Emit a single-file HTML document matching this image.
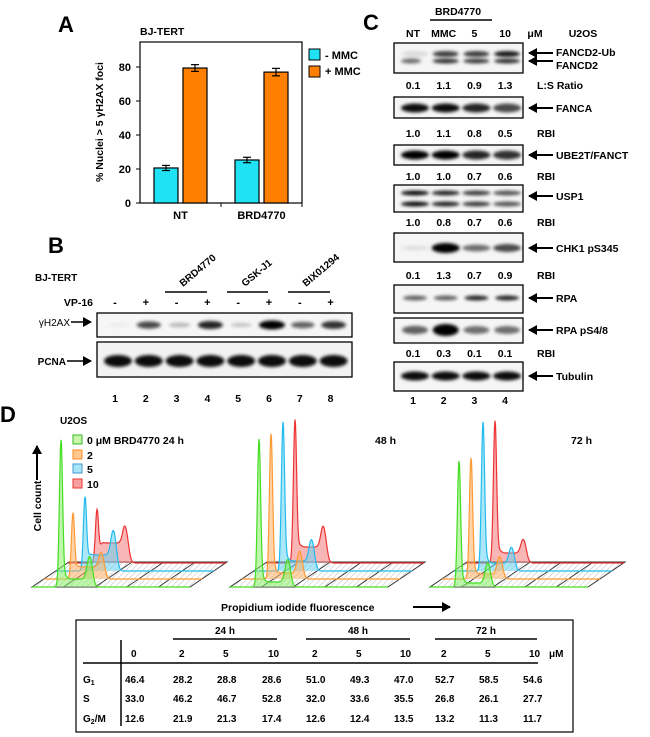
<!DOCTYPE html>
<html><head><meta charset="utf-8">
<style>
html,body{margin:0;padding:0;background:#fff;}
svg{display:block;font-family:"Liberation Sans",Arial,sans-serif;font-weight:bold;}
</style></head>
<body>
<svg id="fig" width="650" height="737" viewBox="0 0 650 737" xmlns="http://www.w3.org/2000/svg">
<defs>
  <filter id="blur" x="-30%" y="-100%" width="160%" height="300%"><feGaussianBlur stdDeviation="1.6"/></filter>
  <pattern id="hatch" width="4" height="4" patternUnits="userSpaceOnUse" patternTransform="rotate(45)">
    <line x1="0" y1="0" x2="0" y2="4" stroke="#aaa" stroke-width="0.8"/>
  </pattern>
  <marker id="ahr" markerWidth="9" markerHeight="10" refX="8" refY="5" orient="auto" markerUnits="userSpaceOnUse">
    <path d="M0,0 L9,5 L0,10 z" fill="#000"/>
  </marker>
</defs>

<!-- Panel A -->
<g>
  <text x="58" y="32" font-size="22">A</text>
  <text x="140" y="35" font-size="10.5">BJ-TERT</text>
  <text transform="translate(103,122) rotate(-90)" text-anchor="middle" font-size="10.5">% Nuclei &gt; 5 γH2AX foci</text>
  <g id="chartA"></g>
  <g>
    <rect x="309" y="49" width="11" height="11" fill="#1fe3f5" stroke="#000"/>
    <text x="325" y="59" font-size="11">-  MMC</text>
    <rect x="309" y="66" width="11" height="11" fill="#ff7f00" stroke="#000"/>
    <text x="325" y="75" font-size="11">+ MMC</text>
  </g>
</g>

<!-- Panel B -->
<g>
  <text x="48" y="253" font-size="22">B</text>
  <text x="35" y="281" font-size="10">BJ-TERT</text>
  <text x="93" y="306" font-size="10.5" text-anchor="end">VP-16</text>
  <g font-size="10">
    <text transform="translate(183,287) rotate(-40)">BRD4770</text>
    <text transform="translate(245,287) rotate(-40)">GSK-J1</text>
    <text transform="translate(306,287) rotate(-40)">BIX01294</text>
  </g>
  <line x1="165" y1="292" x2="207" y2="292" stroke="#000" stroke-width="1.5"/>
  <line x1="227" y1="292" x2="268" y2="292" stroke="#000" stroke-width="1.5"/>
  <line x1="288" y1="292" x2="330" y2="292" stroke="#000" stroke-width="1.5"/>
  <text x="70" y="326" font-size="10" text-anchor="end" font-weight="normal">γH2AX</text>
  <line x1="71" y1="322" x2="91" y2="322" stroke="#000" stroke-width="1.5" marker-end="url(#ahr)"/>
  <text x="66" y="365" font-size="10" text-anchor="end">PCNA</text>
  <line x1="67" y1="361" x2="91" y2="361" stroke="#000" stroke-width="1.5" marker-end="url(#ahr)"/>
  <g id="blotB"></g>
</g>

<!-- Panel C -->
<g>
  <text x="363" y="30" font-size="22">C</text>
  <text x="458" y="15" font-size="10.5" text-anchor="middle">BRD4770</text>
  <line x1="430" y1="20" x2="492" y2="20" stroke="#000" stroke-width="1.5"/>
  <text x="535" y="37" font-size="10.5" text-anchor="middle">μM</text>
  <text x="583" y="37" font-size="10.5" text-anchor="middle">U2OS</text>
  <g id="blotC"></g>
</g>

<!-- Panel D -->
<g>
  <text x="0" y="422" font-size="22">D</text>
  <text x="60" y="424" font-size="10">U2OS</text>
  <g>
    <rect x="73" y="435" width="9" height="9" fill="#c8f5a8" stroke="#33bb22"/>
    <text x="87" y="444" font-size="10.5">0 μM BRD4770   24 h</text>
    <rect x="73" y="450" width="9" height="9" fill="#ffc890" stroke="#ff8a20"/>
    <text x="87" y="459" font-size="10.5">2</text>
    <rect x="73" y="464" width="9" height="9" fill="#a8e4f8" stroke="#4499cc"/>
    <text x="87" y="473" font-size="10.5">5</text>
    <rect x="73" y="479" width="9" height="9" fill="#f8a0a0" stroke="#ee3333"/>
    <text x="87" y="488" font-size="10.5">10</text>
  </g>
  <text x="375" y="444" font-size="10.5">48 h</text>
  <text x="571" y="444" font-size="10.5">72 h</text>
  <text transform="translate(41,506) rotate(-90)" text-anchor="middle" font-size="10.5">Cell count</text>
  <line x1="37" y1="480" x2="37" y2="446" stroke="#000" stroke-width="2" marker-end="url(#ahr)"/>
  <text x="221" y="611" font-size="10.5">Propidium iodide fluorescence</text>
  <line x1="413" y1="607" x2="450" y2="607" stroke="#000" stroke-width="2" marker-end="url(#ahr)"/>
  <g id="hists"></g>

  <g font-size="10">
    <rect x="76" y="620" width="497" height="112" fill="none" stroke="#000" stroke-width="1.2"/>
    <text x="225" y="634" text-anchor="middle">24 h</text>
    <text x="358" y="634" text-anchor="middle">48 h</text>
    <text x="486" y="634" text-anchor="middle">72 h</text>
    <line x1="173" y1="639" x2="277" y2="639" stroke="#000" stroke-width="1.5"/>
    <line x1="306" y1="639" x2="410" y2="639" stroke="#000" stroke-width="1.5"/>
    <line x1="435" y1="639" x2="537" y2="639" stroke="#000" stroke-width="1.5"/>
    <line x1="121" y1="640" x2="121" y2="726" stroke="#000" stroke-width="1.5"/>
    <line x1="83" y1="663" x2="538" y2="663" stroke="#000" stroke-width="1.5"/>
    <g id="tbl"></g>
  </g>
</g>

<script>
// ---------- Panel A data ----------
const groupsA = ["NT", "BRD4770"];
const minusMMC = [20.6, 25.3];
const plusMMC = [79.4, 77.0];
const errMinus = [1.5, 1.6];
const errPlus = [2.0, 2.2];
const yTicksA = [0, 20, 40, 60, 80];

const NS = "http://www.w3.org/2000/svg";
function mk(tag, attrs, parent) {
  const e = document.createElementNS(NS, tag);
  for (const k in attrs) e.setAttribute(k, attrs[k]);
  if (parent) parent.appendChild(e);
  return e;
}
(function () {
  const g = document.getElementById("chartA");
  const x0 = 140, x1 = 302, yTop = 42, yBot = 203;
  const yScale = v => yBot - v * 1.7;
  const gw = (x1 - x0) / groupsA.length;
  mk("rect", { x: x0, y: yTop, width: x1 - x0, height: yBot - yTop, fill: "none", stroke: "#000", "stroke-width": 1.2 }, g);
  yTicksA.forEach(t => {
    const y = yScale(t);
    mk("line", { x1: x0 - 4, y1: y, x2: x0, y2: y, stroke: "#000" }, g);
    const tx = mk("text", { x: 131, y: y + 4, "text-anchor": "end", "font-size": 11 }, g);
    tx.textContent = t;
    
    
  });
  mk("line", { x1: x0 + gw, y1: yBot, x2: x0 + gw, y2: yBot + 4, stroke: "#000" }, g);
  mk("line", { x1: x1, y1: yBot, x2: x1, y2: yBot + 4, stroke: "#000" }, g);
  groupsA.forEach((name, i) => {
    const gx = x0 + gw * i;
    const series = [[minusMMC[i], errMinus[i], "#1fe3f5", gx + 14], [plusMMC[i], errPlus[i], "#ff7f00", gx + 43]];
    series.forEach((s, j) => {
      const r = mk("rect", { x: s[3], y: yScale(s[0]), width: 24, height: yBot - yScale(s[0]), fill: s[2], stroke: "#000", "stroke-width": 1.2 }, g);
      
      
      const cx = s[3] + 12;
      const eg = mk("g", { stroke: "#000", "stroke-width": 1.2 }, g);
      
      
      mk("line", { x1: cx, y1: yScale(s[0] + s[1]), x2: cx, y2: yScale(s[0] - s[1]) }, eg);
      mk("line", { x1: cx - 4, y1: yScale(s[0] + s[1]), x2: cx + 4, y2: yScale(s[0] + s[1]) }, eg);
      mk("line", { x1: cx - 4, y1: yScale(s[0] - s[1]), x2: cx + 4, y2: yScale(s[0] - s[1]) }, eg);
    });
    const lt = mk("text", { x: gx + gw / 2, y: 219, "text-anchor": "middle", "font-size": 11 }, g);
    lt.textContent = name;
    
    
  });
})();

// ---------- Blot helpers ----------
function band(parent, cx, cy, w, h, inten) {
  mk("ellipse", { cx: cx, cy: cy, rx: w / 2, ry: h / 2, fill: "#000", opacity: Math.min(1, inten), filter: "url(#blur)" }, parent);
}

// ---------- Panel B ----------
const lanesB = [1, 2, 3, 4, 5, 6, 7, 8];
const vp16 = ["-", "+", "-", "+", "-", "+", "-", "+"];
const yh2axInt = [0.05, 0.7, 0.25, 0.85, 0.2, 1.0, 0.6, 0.8];
const pcnaInt = [0.95, 0.95, 0.95, 0.95, 0.95, 0.95, 0.95, 0.95];
(function () {
  const g = document.getElementById("blotB");
  const lx = i => 115 + i * 30.8;
  const b1 = mk("g", {}, g);
  
  
  mk("rect", { x: 97, y: 313, width: 255, height: 24, fill: "#f6f6f6", stroke: "#000", "stroke-width": 1.3 }, b1);
  yh2axInt.forEach((v, i) => band(b1, lx(i) + 3, 325, 20 + v * 6, 3 + v * 6, v));
  const b2 = mk("g", {}, g);
  
  
  mk("rect", { x: 97, y: 342, width: 255, height: 35, fill: "#f2f2f2", stroke: "#000", "stroke-width": 1.3 }, b2);
  pcnaInt.forEach((v, i) => band(b2, lx(i) + 3, 361, 28, 12, v));
  lanesB.forEach((n, i) => {
    const t = mk("text", { x: lx(i), y: 306, "text-anchor": "middle", "font-size": 11 }, g);
    t.textContent = vp16[i];
    
    
    const t2 = mk("text", { x: lx(i), y: 402, "text-anchor": "middle", "font-size": 10.5 }, g);
    t2.textContent = n;
    
    
  });
})();

// ---------- Panel C ----------
const lanesC = ["NT", "MMC", "5", "10"];
const laneNumsC = [1, 2, 3, 4];
const fancd2Upper = [0.1, 0.75, 0.75, 0.9];
const fancd2Lower = [0.55, 0.8, 0.75, 0.8];
const ratioLS = ["0.1", "1.1", "0.9", "1.3"];
const fancaInt = [0.95, 0.95, 0.85, 0.7];
const fancaRBI = ["1.0", "1.1", "0.8", "0.5"];
const ube2tInt = [1.0, 1.0, 0.85, 0.8];
const ube2tRBI = ["1.0", "1.0", "0.7", "0.6"];
const usp1Int = [0.95, 0.85, 0.75, 0.65];
const usp1RBI = ["1.0", "0.8", "0.7", "0.6"];
const chk1Int = [0.1, 1.0, 0.55, 0.7];
const chk1RBI = ["0.1", "1.3", "0.7", "0.9"];
const rpaInt = [0.6, 0.6, 0.85, 0.85];
const rpaPInt = [0.6, 1.0, 0.55, 0.55];
const rpaPRBI = ["0.1", "0.3", "0.1", "0.1"];
const tubInt = [0.95, 0.95, 0.95, 0.95];
(function () {
  const g = document.getElementById("blotC");
  const lx = i => 413 + i * 30.7;
  lanesC.forEach((n, i) => {
    const t = mk("text", { x: lx(i), y: 37, "text-anchor": "middle", "font-size": 10.5 }, g);
    t.textContent = n;
    
    
    const t2 = mk("text", { x: lx(i), y: 404, "text-anchor": "middle", "font-size": 10.5 }, g);
    t2.textContent = laneNumsC[i];
    
    
  });
  function box(y, h, name) {
    const bg = mk("g", {}, g);
    
    
    mk("rect", { x: 394, y: y, width: 129, height: h, fill: "#f5f5f5", stroke: "#000", "stroke-width": 1.3 }, bg);
    return bg;
  }
  function label(y, txt, ty) {
    mk("line", { x1: 553, y1: y, x2: 529, y2: y, stroke: "#000", "stroke-width": 2, "marker-end": "url(#ahr)" }, g);
    const t = mk("text", { x: 556, y: (ty || y) + 4, "font-size": 10.5 }, g);
    t.textContent = txt;
    
    
  }
  function nums(y, arr, tag) {
    arr.forEach((v, i) => {
      const t = mk("text", { x: lx(i), y: y + 4, "text-anchor": "middle", "font-size": 10.5 }, g);
      t.textContent = v;
      
      
    });
    const t = mk("text", { x: 537, y: y + 4, "font-size": 10.5 }, g);
    t.textContent = tag;
    
    
  }
  let b = box(43, 30, "fancd2-blot");
  fancd2Upper.forEach((v, i) => band(b, lx(i) + 2, 54, 26, 6, v));
  fancd2Lower.forEach((v, i) => band(b, lx(i) + (i === 0 ? -2 : 2), 61, 26 - (i === 0 ? 6 : 0), 5, v));
  label(53, "", 0); label(61, "");
  let t = mk("text", { x: 556, y: 56, "font-size": 10.5 }, g); t.textContent = "FANCD2-Ub";
  t = mk("text", { x: 556, y: 69, "font-size": 10.5 }, g); t.textContent = "FANCD2";
  nums(85, ratioLS, "L:S Ratio");
  b = box(97, 21, "fanca-blot"); fancaInt.forEach((v, i) => band(b, lx(i) + 2, 108, 28, 9, v));
  label(108, "FANCA"); nums(133, fancaRBI, "RBI");
  b = box(145, 20, "ube2t-blot"); ube2tInt.forEach((v, i) => band(b, lx(i) + 2, 155, 28, 9, v));
  label(155, "UBE2T/FANCT"); nums(176, ube2tRBI, "RBI");
  b = box(185, 27, "usp1-blot");
  usp1Int.forEach((v, i) => { band(b, lx(i) + 2, 193, 28, 5, v); band(b, lx(i) + 2, 204, 28, 5, v); });
  label(196, "USP1"); nums(222, usp1RBI, "RBI");
  b = box(233, 29, "chk1-blot"); chk1Int.forEach((v, i) => band(b, lx(i) + 2, 248, 28, 3 + v * 7, v));
  label(248, "CHK1 pS345"); nums(275, chk1RBI, "RBI");
  b = box(285, 28, "rpa-blot"); rpaInt.forEach((v, i) => band(b, lx(i) + 2, 298, 24, 5, v));
  label(298, "RPA");
  b = box(318, 25, "rpa-ps48-blot"); rpaPInt.forEach((v, i) => band(b, lx(i) + 2, 330, 26, 3 + v * 9, v));
  label(330, "RPA pS4/8"); nums(353, rpaPRBI, "RBI");
  b = box(362, 29, "tubulin-blot"); tubInt.forEach((v, i) => band(b, lx(i) + 2, 376, 28, 9, v));
  label(376, "Tubulin");
})();

// ---------- Panel D histograms ----------
const timepoints = ["24 h", "48 h", "72 h"];
const doses = ["0", "2", "5", "10"];
const g1Heights24 = [147, 66, 74, 53];
const g1Heights48 = [148, 145, 149, 143];
const g1Heights72 = [126, 121, 149, 142];
const g2Heights24 = [28, 22, 35, 29];
const g2Heights48 = [26, 26, 28, 31];
const g2Heights72 = [23, 21, 21, 20];
const sLevels24 = [8, 12, 16, 20];
const sLevels48 = [5, 6, 10, 16];
const sLevels72 = [4, 5, 8, 10];
const seriesStroke = ["#44dd22", "#ff9a33", "#22bbee", "#ee3333"];
const seriesFill = ["#88ee66", "#ffb066", "#66d4f4", "#f47a7a"];
(function () {
  const root = document.getElementById("hists");
  const origins = [32, 230, 430];
  const g1 = [g1Heights24, g1Heights48, g1Heights72];
  const g2 = [g2Heights24, g2Heights48, g2Heights72];
  const sl = [sLevels24, sLevels48, sLevels72];
  const gauss = (x, m, s) => Math.exp(-0.5 * ((x - m) / s) * ((x - m) / s));
  const sig = x => 1 / (1 + Math.exp(-x));
  timepoints.forEach((tp, p) => {
    const fx = origins[p], fy = 587;
    const hg = mk("g", {}, root);
    
    
    mk("path", { d: `M${fx},${fy} L${fx + 158},${fy} L${fx + 195},${fy - 25} L${fx + 37},${fy - 25} Z`, fill: "url(#hatch)", stroke: "#333", "stroke-width": 1 }, hg);
    for (let k = 1; k < 5; k++) {
      const xx = fx + k * 31.6;
      mk("line", { x1: xx, y1: fy, x2: xx + 37, y2: fy - 25, stroke: "#333", "stroke-width": 0.9 }, hg);
    }
    for (let i = 3; i >= 0; i--) {
      const by = fy - 8 * i, bx = fx + 12 * i;
      const p1 = fx + 29 + 12 * i, p2 = p1 + 29;
      const A1 = g1[p][i], A2 = g2[p][i], S = sl[p][i];
      let d = `M${bx},${by} L${p1 - 9},${by}`;
      for (let x = p1 - 9; x <= p2 + 12; x += 0.5) {
        const s = S * sig((x - p1 - 3) * 1.2) * sig((p2 - 1 - x) * 1.0);
        const y = A1 * gauss(x, p1, 1.6) + A2 * gauss(x, p2, 2.6) + s + (x > p1 ? 4 * gauss(x, p1 + 3, 2.5) * (A1 / 140) : 0);
        d += ` L${x.toFixed(1)},${(by - y).toFixed(1)}`;
      }
      d += ` L${bx + 158},${by}`;
      const path = mk("path", { d: d, fill: seriesFill[i], "fill-opacity": 0.55, stroke: seriesStroke[i], "stroke-width": 1.2 }, hg);
      
      
    }
  });
})();

// ---------- Table ----------
const colX = [125, 173, 217, 262, 306, 350, 394, 435, 479, 523];
const doseHeaders = ["0", "2", "5", "10", "2", "5", "10", "2", "5", "10"];
const g1Row = ["46.4", "28.2", "28.8", "28.6", "51.0", "49.3", "47.0", "52.7", "58.5", "54.6"];
const sRow = ["33.0", "46.2", "46.7", "52.8", "32.0", "33.6", "35.5", "26.8", "26.1", "27.7"];
const g2mRow = ["12.6", "21.9", "21.3", "17.4", "12.6", "12.4", "13.5", "13.2", "11.3", "11.7"];
(function () {
  const g = document.getElementById("tbl");
  doseHeaders.forEach((v, i) => {
    const t = mk("text", { x: colX[i] + 6, y: 657 }, g);
    t.textContent = v;
    
    
  });
  const mu = mk("text", { x: 549, y: 657 }, g); mu.textContent = "μM";
  const rows = [["G", "1", "", g1Row, 683], ["S", "", "", sRow, 702], ["G", "2", "/M", g2mRow, 722]];
  rows.forEach(r => {
    const lab = mk("text", { x: 83, y: r[4] }, g);
    lab.textContent = r[0];
    if (r[1]) { const ts = mk("tspan", { "font-size": 7, dy: 2 }, lab); ts.textContent = r[1]; }
    if (r[2]) { const ts = mk("tspan", { dy: -2 }, lab); ts.textContent = r[2]; }
    
    
    r[3].forEach((v, i) => {
      const t = mk("text", { x: colX[i], y: r[4] }, g);
      t.textContent = v;
      
      
    });
  });
})();
</script>
</svg>
</body></html>
